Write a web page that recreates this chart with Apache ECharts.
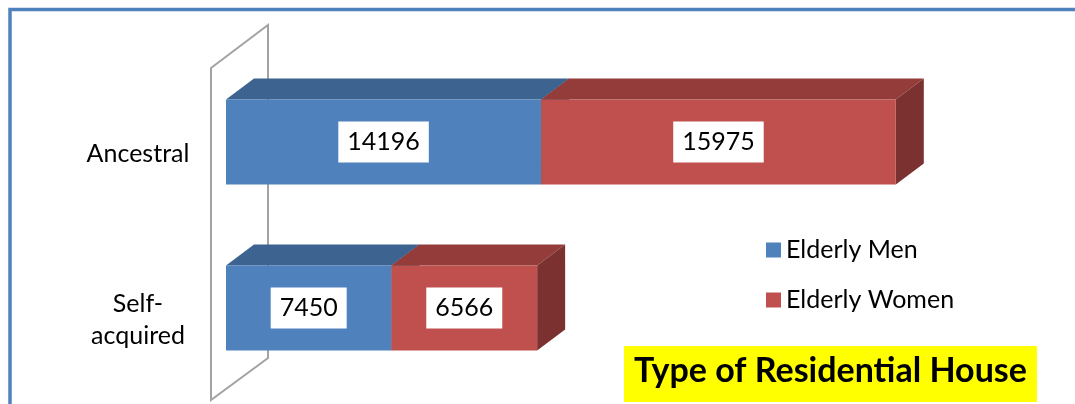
<!DOCTYPE html>
<html>
<head>
<meta charset="utf-8">
<title>Type of Residential House</title>
<script src="https://cdn.jsdelivr.net/npm/echarts@6/dist/echarts.min.js"></script>
<style>
	html, body { margin: 0; padding: 0; background: #fff; }
	#houseChart { width: 1075px; height: 404px; }
</style>
</head>
<body>
<div id="houseChart"></div>
<script>
var categories = ['Ancestral', 'Self-acquired'];
var menValues = [14196, 7450];
var womenValues = [15975, 6566];
var seriesNames = ['Elderly Men', 'Elderly Women'];

var FONT = 'Lato, "Liberation Sans", sans-serif';
var DX = 28, DY = -21;   // 3d depth offset
var BAR_H = 85;
var BAR_SHIFT = -12;     // bar front sits a bit above the category label

houseChart("houseChart");

function stackData(base, vals) {
	var out = [];
	for (var i = 0; i < vals.length; i++) {
		var start = base ? base[i] : 0;
		out.push([i, start, start + vals[i], vals[i]]);
	}
	return out;
}

function bar3d(faces) {
	return function (params, api) {
		var cat = api.value(0);
		var p0 = api.coord([api.value(1), cat]);
		var p1 = api.coord([api.value(2), cat]);
		var cy = p0[1] + BAR_SHIFT;
		var x0 = p0[0], x1 = p1[0];
		var yT = cy - BAR_H / 2, yB = cy + BAR_H / 2;
		return {
			type: 'group',
			children: [{
				type: 'polygon',
				shape: { points: [[x0, yT], [x1, yT], [x1 + DX, yT + DY], [x0 + DX, yT + DY]] },
				style: { fill: faces.top }
			}, {
				type: 'polygon',
				shape: { points: [[x1, yT], [x1 + DX, yT + DY], [x1 + DX, yB + DY], [x1, yB]] },
				style: { fill: faces.side }
			}, {
				type: 'rect',
				shape: { x: x0, y: yT, width: x1 - x0, height: BAR_H },
				style: { fill: faces.front }
			}, {
				type: 'text',
				style: {
					text: String(api.value(3)),
					x: (x0 + x1) / 2,
					y: cy,
					align: 'center',
					verticalAlign: 'middle',
					fill: '#000',
					font: '25px ' + FONT,
					backgroundColor: '#fff',
					padding: [8, 9, 8, 9]
				}
			}]
		};
	};
}

function wallItem(params, api) {
	var cs = params.coordSys;
	var fx = cs.x - 15, top = cs.y - 3, bot = cs.y + cs.height - 3;
	return {
		type: 'polygon',
		shape: { points: [[fx, top], [fx + 57, top - 43], [fx + 57, bot - 42], [fx, bot]] },
		style: { fill: 'none', stroke: '#a3a3a3', lineWidth: 2 }
	};
}

function houseChart(id) {
	var chart = echarts.init(document.getElementById(id));
	var option = {
		animation: false,
		title: {
			text: 'Type of Residential House',
			left: 624,
			top: 346,
			padding: [8, 10, 14, 10],
			backgroundColor: '#ffff00',
			textStyle: { fontFamily: FONT, fontSize: 34, fontWeight: 'bold', color: '#000' }
		},
		legend: {
			orient: 'vertical',
			left: 766,
			top: 237,
			padding: 0,
			itemGap: 24,
			itemWidth: 15,
			itemHeight: 15,
			icon: 'rect',
			selectedMode: false,
			textStyle: { fontFamily: FONT, fontSize: 25, lineHeight: 26, color: '#000' },
			data: seriesNames
		},
		graphic: [{
			type: 'rect',
			shape: { x: 10, y: 9.5, width: 1300, height: 600 },
			style: { fill: 'none', stroke: '#4f81bd', lineWidth: 3.5 },
			z: 100
		}],
		grid: {
			left: 226,
			top: 71,
			height: 332,
			right: 72
		},
		xAxis: {
			type: 'value',
			min: 0,
			max: 35000,
			show: false
		},
		yAxis: {
			type: 'category',
			inverse: true,
			data: categories,
			axisLine: { show: false },
			axisTick: { show: false },
			axisLabel: {
				margin: 88,
				align: 'center',
				fontFamily: FONT,
				fontSize: 25,
				lineHeight: 32,
				color: '#000',
				formatter: function (v) { return v.replace('-', '-\n'); }
			}
		},
		series: [{
			type: 'custom',
			name: 'wall',
			renderItem: wallItem,
			data: [[0, 0]],
			encode: { x: 0, y: 1 },
			silent: true,
			z: 1
		}, {
			type: 'custom',
			name: seriesNames[0],
			itemStyle: { color: '#4f81bd' },
			renderItem: bar3d({ front: '#4f81bd', top: '#3d6390', side: '#385d89' }),
			encode: { x: [1, 2], y: 0 },
			data: stackData(null, menValues),
			z: 2
		}, {
			type: 'custom',
			name: seriesNames[1],
			itemStyle: { color: '#c0504d' },
			renderItem: bar3d({ front: '#c0504d', top: '#933c3a', side: '#7b3130' }),
			encode: { x: [1, 2], y: 0 },
			data: stackData(menValues, womenValues),
			z: 3
		}]
	};
	chart.setOption(option);
}
</script>
</body>
</html>
